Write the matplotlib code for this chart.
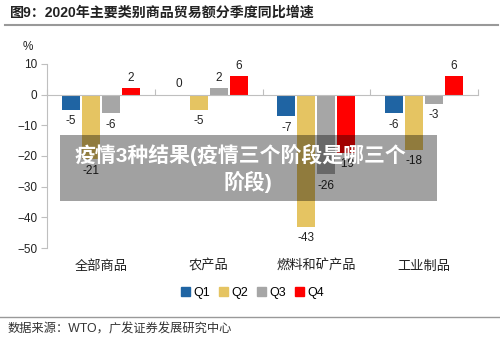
import numpy as np
import matplotlib
matplotlib.use("Agg")
import matplotlib.pyplot as plt
from matplotlib.patches import Rectangle
from matplotlib.lines import Line2D

plt.rcParams['font.family'] = ['Liberation Sans', 'Noto Sans CJK SC', 'DejaVu Sans']

categories = ["全部商品", "农产品", "燃料和矿产品", "工业制品"]
quarters = ["Q1", "Q2", "Q3", "Q4"]
q1 = [-5, 0, -7, -6]
q2 = [-21, -5, -43, -18]
q3 = [-6, 2, -26, -3]
q4 = [2, 6, -19, 6]
series = [q1, q2, q3, q4]
colors = ["#1f64a3", "#e5c462", "#a6a6a6", "#ff0000"]

fig = plt.figure(figsize=(5, 3.38), dpi=100)
ax = fig.add_axes([0.094, 0.266, 0.862, 0.545])

x = np.arange(len(categories))
width = 0.167
step = 0.185
for i, (vals, c) in enumerate(zip(series, colors)):
    pos = x + (i - 1.5) * step
    bars = ax.bar(pos, vals, width, color=c, label=quarters[i], zorder=2)
    for p, v in zip(pos, vals):
        if v >= 0:
            ax.annotate(str(v), (p, v), xytext=(0, 3), textcoords="offset points",
                        ha="center", va="bottom", fontsize=8.5, color="#222222")
        else:
            ax.annotate(str(v), (p, v), xytext=(0, -4), textcoords="offset points",
                        ha="center", va="top", fontsize=8.5, color="#222222")

ax.set_ylim(-50, 10)
ax.set_xlim(-0.5, len(categories) - 0.5)
ax.set_yticks(np.arange(-50, 11, 10))
ax.tick_params(axis="y", length=4, color="#bfbfbf", labelsize=8.5, labelcolor="#222222", pad=3)

# zero line with ticks at group boundaries
ax.spines["bottom"].set_position(("data", 0))
ax.spines["bottom"].set_color("#bfbfbf")
ax.set_xticks(np.arange(-0.5, len(categories), 1.0))
ax.set_xticklabels([])
ax.tick_params(axis="x", length=4, color="#bfbfbf", direction="in")
ax.spines["left"].set_color("#bfbfbf")
ax.spines["top"].set_visible(False)
ax.spines["right"].set_visible(False)

for xi, cat in zip(x, categories):
    ax.text(xi, -0.1, cat, transform=ax.get_xaxis_transform(), ha="center", va="center",
            fontsize=9.5, color="#222222")

fig.text(28 / 500, 1 - 47 / 338, "%", ha="center", va="center", fontsize=8.5, color="#222222")

handles = [plt.Rectangle((0, 0), 1, 1, color=c) for c in colors]
fig.legend(handles, quarters, loc="center", bbox_to_anchor=(0.505, 1 - 293 / 338), ncol=4,
           frameon=False, fontsize=9, handlelength=0.75, handleheight=0.75,
           handletextpad=0.25, columnspacing=0.7)

# title and rules
fig.text(10 / 500, 1 - 13 / 338, "图9：2020年主要类别商品贸易额分季度同比增速", ha="left", va="center",
         fontsize=10.1, fontweight="bold", color="#222222")
fig.add_artist(Line2D([5 / 500, 498 / 500], [1 - 25 / 338, 1 - 25 / 338], color="#999999", lw=1.5))
fig.add_artist(Line2D([0, 1], [1 - 317 / 338, 1 - 317 / 338], color="#999999", lw=1.0))
fig.text(8 / 500, 1 - 329 / 338, "数据来源：WTO，广发证券发展研究中心", ha="left", va="center",
         fontsize=8.8, color="#333333")

# overlay banner
fig.add_artist(Rectangle((60 / 500, 1 - 201 / 338), 377 / 500, 66 / 338,
                         transform=fig.transFigure, facecolor="black", alpha=0.37,
                         edgecolor="none", zorder=5))
fig.text(240 / 500, 1 - 155 / 338, "疫情3种结果(疫情三个阶段是哪三个", ha="center", va="center",
         fontsize=15, fontweight="bold", color="white", zorder=6)
fig.text(248 / 500, 1 - 182 / 338, "阶段)", ha="center", va="center",
         fontsize=15, fontweight="bold", color="white", zorder=6)

fig.savefig("out.png", dpi=100)
